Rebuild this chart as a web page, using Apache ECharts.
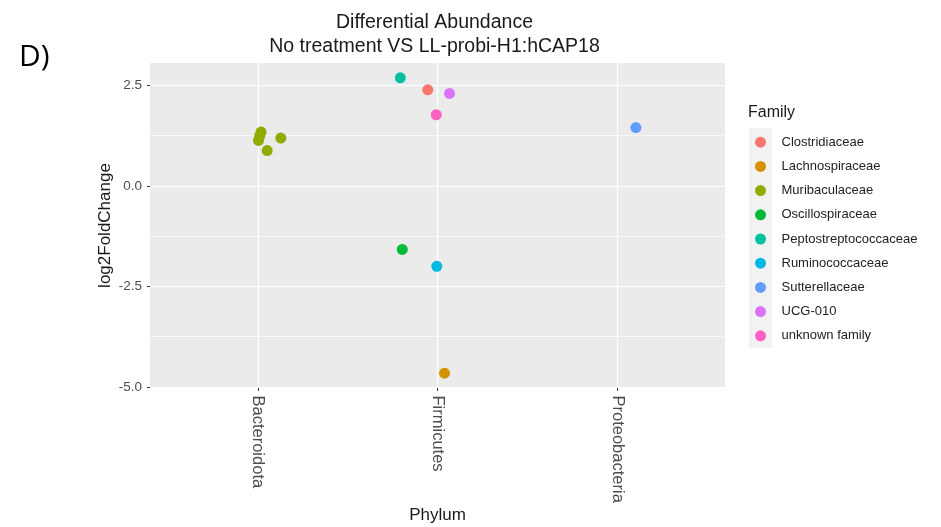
<!DOCTYPE html>
<html><head><meta charset="utf-8">
<script src="https://cdn.jsdelivr.net/npm/echarts@6/dist/echarts.min.js"></script>
<style>html,body{margin:0;padding:0;background:#fff}#c{width:941px;height:527px}</style>
</head><body><div id="c"></div>
<script>
// ---- data ----
const families = ['Clostridiaceae','Lachnospiraceae','Muribaculaceae','Oscillospiraceae','Peptostreptococcaceae','Ruminococcaceae','Sutterellaceae','UCG-010','unknown family'];
const familyColors = ['#F8766D','#D39200','#93AA00','#00BA38','#00C19F','#00B9E3','#619CFF','#DB72FB','#FF61C3'];
const phyla = ['Bacteroidota','Firmicutes','Proteobacteria'];
const yTicks = [-5, -2.5, 0, 2.5];
const yMinorTicks = [-3.75, -1.25, 1.25];
const pointFamily = ['Muribaculaceae','Muribaculaceae','Muribaculaceae','Muribaculaceae','Muribaculaceae',
  'Peptostreptococcaceae','Clostridiaceae','UCG-010','unknown family','Oscillospiraceae','Ruminococcaceae','Lachnospiraceae',
  'Sutterellaceae'];
const pointPhylum = ['Bacteroidota','Bacteroidota','Bacteroidota','Bacteroidota','Bacteroidota',
  'Firmicutes','Firmicutes','Firmicutes','Firmicutes','Firmicutes','Firmicutes','Firmicutes',
  'Proteobacteria'];
const pointJitter = [0.018, 0.011, 0.004, 0.128, 0.052, -0.207, -0.054, 0.067, -0.007, -0.196, -0.004, 0.039, 0.104];
const pointLog2FC = [1.34, 1.25, 1.13, 1.19, 0.88, 2.69, 2.39, 2.30, 1.77, -1.58, -2.00, -4.66, 1.45];

// ---- scales (ggplot-like expansion) ----
const lo = Math.min(...pointLog2FC), hi = Math.max(...pointLog2FC);
const yMin = lo - 0.05 * (hi - lo), yMax = hi + 0.05 * (hi - lo);
const xMin = 0.4, xMax = phyla.length + 0.6;

const series = families.map((f, i) => ({
  name: f, type: 'scatter', symbol: 'circle', symbolSize: 11,
  itemStyle: { color: familyColors[i], opacity: 1 },
  emphasis: { disabled: true },
  data: pointFamily.map((pf, k) => pf === f ? [phyla.indexOf(pointPhylum[k]) + 1 + pointJitter[k], pointLog2FC[k]] : null).filter(d => d)
}));

const chart = echarts.init(document.getElementById('c'), null, { renderer: 'canvas' });
chart.setOption({
  animation: false,
  backgroundColor: '#fff',
  title: [
    { text: 'Differential Abundance\nNo treatment VS LL-probi-H1:hCAP18', left: 434.5, top: 10, padding: 0, textAlign: 'center',
      textStyle: { fontFamily: 'Liberation Sans', fontSize: 19.5, fontWeight: 'normal', color: '#1a1a1a', lineHeight: 24.3, align: 'center' } },
    { text: 'D)', left: 19, top: 42, padding: 0, textStyle: { fontFamily: 'Open Sans', fontSize: 30, fontWeight: 'normal', color: '#000' } },
    { text: 'Family', left: 748, top: 105, padding: 0, textStyle: { fontFamily: 'Liberation Sans', fontSize: 16, fontWeight: 'normal', color: '#1a1a1a' } }
  ],
  graphic: [
    { type: 'rect', left: 749, top: 128, shape: { width: 23, height: 220 }, style: { fill: '#F2F2F2' }, silent: true, z: -1 }
  ],
  legend: {
    orient: 'vertical', left: 750, top: 130.7, icon: 'circle',
    itemWidth: 32, itemHeight: 11, itemGap: 11.2,
    textStyle: { fontFamily: 'Liberation Sans', fontSize: 13, color: '#222' },
    data: families, selectedMode: false
  },
  grid: { left: 150, top: 63, right: 216, bottom: 139, show: true, backgroundColor: '#EBEBEB', borderWidth: 0,
    containLabel: false, outerBoundsMode: 'none' },
  xAxis: {
    type: 'value', min: xMin, max: xMax,
    name: 'Phylum', nameLocation: 'middle', nameGap: 119, nameMoveOverlap: false,
    nameTextStyle: { fontFamily: 'Liberation Sans', fontSize: 17, color: '#1a1a1a' },
    axisLine: { show: false, onZero: false },
    axisTick: { show: true, length: 3, lineStyle: { color: '#333' }, customValues: [1, 2, 3] },
    axisLabel: { customValues: [1, 2, 3], rotate: -90, margin: 7.5,
      fontFamily: 'Liberation Sans', fontSize: 16.5, color: '#4D4D4D',
      formatter: v => phyla[Math.round(v) - 1] || '' },
    splitLine: { show: true, lineStyle: { color: '#fff', width: 1.2 } }
  },
  yAxis: [
    {
      type: 'value', min: yMin, max: yMax,
      name: 'log2FoldChange', nameLocation: 'middle', nameGap: 36, nameMoveOverlap: false,
      nameTextStyle: { fontFamily: 'Liberation Sans', fontSize: 17, color: '#1a1a1a' },
      axisLine: { show: false, onZero: false },
      axisTick: { show: true, length: 3, lineStyle: { color: '#333' }, customValues: yTicks },
      axisLabel: { customValues: yTicks, margin: 8, fontFamily: 'Liberation Sans', fontSize: 13.5, color: '#4D4D4D',
        formatter: v => v.toFixed(1) },
      splitLine: { show: true, lineStyle: { color: '#fff', width: 1.2 } }
    },
    {
      type: 'value', min: yMin, max: yMax, position: 'left',
      axisLine: { show: false, onZero: false },
      axisTick: { show: false, customValues: yMinorTicks },
      axisLabel: { show: false, customValues: yMinorTicks },
      splitLine: { show: true, lineStyle: { color: '#fff', width: 0.6 } }
    }
  ],
  series: series
});
</script></body></html>
